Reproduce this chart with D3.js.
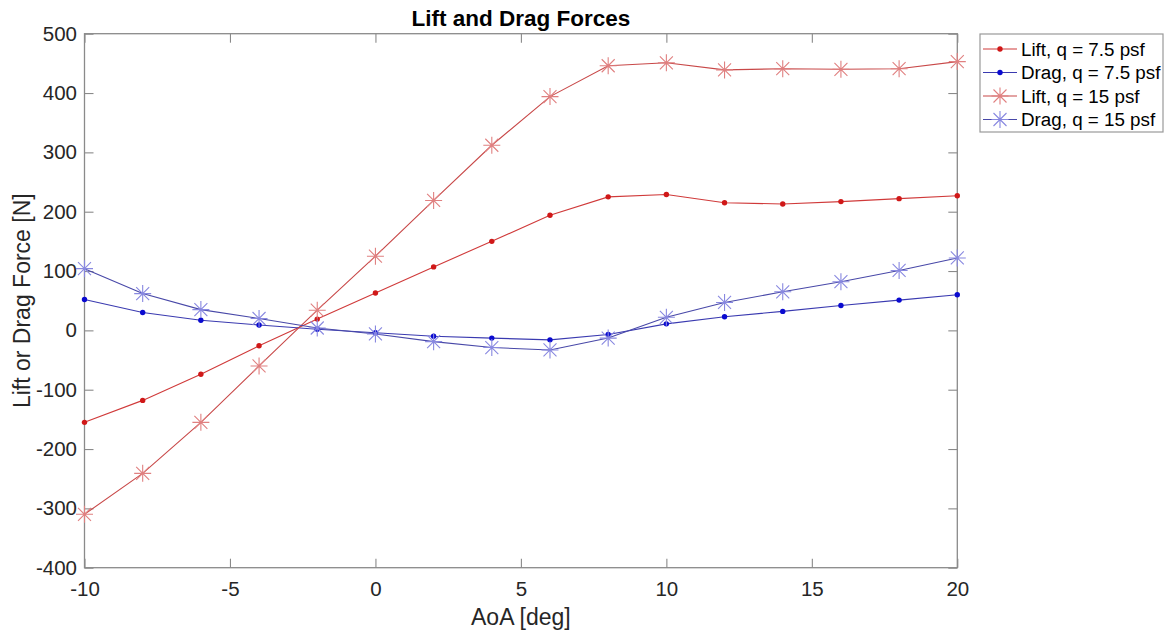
<!DOCTYPE html>
<html>
<head>
<meta charset="utf-8">
<script src="https://cdn.jsdelivr.net/npm/d3@7"></script>
<style>
  html, body { margin: 0; padding: 0; background: #fff; }
  svg { display: block; font-family: "Liberation Sans", Arial, sans-serif; }
</style>
</head>
<body>
<svg id="chart" width="1172" height="633"></svg>
<script>
// Angle of attack (deg)
const aoa = [-10, -8, -6, -4, -2, 0, 2, 4, 6, 8, 10, 12, 14, 16, 18, 20];
// Forces (N)
const lift75 = [-155, -118, -74, -26, 19, 63, 107, 150, 194, 225, 229, 215, 213, 217, 222, 227];
const drag75 = [52, 30, 17, 9, 2, -4, -10, -13, -16, -7, 11, 23, 32, 42, 51, 60];
const lift15 = [-310, -241, -155, -60, 34, 125, 219, 312, 394, 446, 451, 439, 441, 440, 441, 453];
const drag15 = [104, 62, 35, 20, 4, -6, -19, -29, -33, -13, 22, 47, 65, 82, 101, 122];

const xTicks = [-10, -5, 0, 5, 10, 15, 20];
const yTicks = [-400, -300, -200, -100, 0, 100, 200, 300, 400, 500];

const seriesNames = ["Lift, q = 7.5 psf", "Drag, q = 7.5 psf", "Lift, q = 15 psf", "Drag, q = 15 psf"];

const series = [
  { name: seriesNames[0], values: lift75, line: "#d03a3a", mark: "#d01818", marker: "dot" },
  { name: seriesNames[1], values: drag75, line: "#3a3ab0", mark: "#0a0ad0", marker: "dot" },
  { name: seriesNames[2], values: lift15, line: "#c84848", mark: "#e08080", marker: "star" },
  { name: seriesNames[3], values: drag15, line: "#4848a8", mark: "#8888e0", marker: "star" }
];

const svg = d3.select("#chart");
const plotL = 84.5, plotR = 957.3, plotT = 33.7, plotB = 567.7;

const x = d3.scaleLinear().domain([-10, 20]).range([plotL, plotR]);
const y = d3.scaleLinear().domain([-400, 500]).range([plotB, plotT]);

const axisColor = "#8a8a8a";
const textColor = "#262626";
const tickLen = 9;
const plainNum = d => String(d);   // ASCII hyphen for negatives

// plot box
svg.append("rect")
  .attr("x", plotL).attr("y", plotT)
  .attr("width", plotR - plotL).attr("height", plotB - plotT)
  .attr("fill", "#fff").attr("stroke", axisColor).attr("stroke-width", 1.3);

// axes with inward ticks on all four sides
const styleAxis = g => {
  g.select(".domain").remove();
  g.selectAll(".tick line").attr("stroke", axisColor).attr("stroke-width", 1.1);
  g.selectAll(".tick text").attr("fill", textColor)
    .style("font-size", "20.5px").style("font-family", "'Liberation Sans', Arial, sans-serif");
};

svg.append("g").attr("transform", `translate(0,${plotB})`)
  .call(d3.axisBottom(x).tickValues(xTicks).tickFormat(plainNum)
    .tickSizeInner(-tickLen).tickSizeOuter(0).tickPadding(13.5))
  .call(styleAxis);
svg.append("g").attr("transform", `translate(0,${plotT})`)
  .call(d3.axisTop(x).tickValues(xTicks).tickFormat("").tickSizeInner(-tickLen).tickSizeOuter(0))
  .call(styleAxis);
svg.append("g").attr("transform", `translate(${plotL},0)`)
  .call(d3.axisLeft(y).tickValues(yTicks).tickFormat(plainNum)
    .tickSizeInner(-tickLen).tickSizeOuter(0).tickPadding(7.5))
  .call(styleAxis);
svg.append("g").attr("transform", `translate(${plotR},0)`)
  .call(d3.axisRight(y).tickValues(yTicks).tickFormat("").tickSizeInner(-tickLen).tickSizeOuter(0))
  .call(styleAxis);

// series
const line = d3.line().x((d, i) => x(aoa[i])).y(d => y(d));
const starPath = (cx, cy) => {
  const a = 8.5, b = 6.5;
  return `M${cx - a},${cy}L${cx + a},${cy}M${cx},${cy - a}L${cx},${cy + a}` +
         `M${cx - b},${cy - b}L${cx + b},${cy + b}M${cx - b},${cy + b}L${cx + b},${cy - b}`;
};

const plot = svg.append("g");
series.forEach(s => {
  plot.append("path").datum(s.values)
    .attr("d", line).attr("fill", "none")
    .attr("stroke", s.line).attr("stroke-width", 1.1);
});
series.forEach(s => {
  const g = plot.append("g");
  if (s.marker === "dot") {
    g.selectAll("circle").data(s.values).join("circle")
      .attr("cx", (d, i) => x(aoa[i])).attr("cy", d => y(d))
      .attr("r", 2.7).attr("fill", s.mark);
  } else {
    g.selectAll("path").data(s.values).join("path")
      .attr("d", (d, i) => starPath(x(aoa[i]), y(d)))
      .attr("fill", "none").attr("stroke", s.mark).attr("stroke-width", 1.1);
  }
});

// title and axis labels
svg.append("text").attr("x", (plotL + plotR) / 2).attr("y", 26)
  .attr("text-anchor", "middle").attr("fill", "#000")
  .style("font-size", "22.5px").style("font-weight", "bold")
  .text("Lift and Drag Forces");

svg.append("text").attr("x", (plotL + plotR) / 2).attr("y", 625)
  .attr("text-anchor", "middle").attr("fill", textColor)
  .style("font-size", "23px")
  .text("AoA [deg]");

svg.append("text")
  .attr("transform", `translate(30,${(plotT + plotB) / 2}) rotate(-90)`)
  .attr("text-anchor", "middle").attr("fill", textColor)
  .style("font-size", "23px")
  .text("Lift or Drag Force [N]");

// legend
const lg = svg.append("g");
lg.append("rect").attr("x", 980).attr("y", 34).attr("width", 183).attr("height", 98)
  .attr("fill", "#fff").attr("stroke", "#999").attr("stroke-width", 1.2);
const rowY = d3.scalePoint().domain(seriesNames).range([49, 119.5]);
series.forEach(s => {
  const cy = rowY(s.name);
  lg.append("line").attr("x1", 983).attr("x2", 1017).attr("y1", cy).attr("y2", cy)
    .attr("stroke", s.line).attr("stroke-width", 1.1);
  if (s.marker === "dot") {
    lg.append("circle").attr("cx", 1000).attr("cy", cy).attr("r", 2.7).attr("fill", s.mark);
  } else {
    lg.append("path").attr("d", starPath(1000, cy)).attr("fill", "none")
      .attr("stroke", s.mark).attr("stroke-width", 1.1);
  }
  lg.append("text").attr("x", 1021).attr("y", cy).attr("dy", "0.35em")
    .attr("fill", "#000").style("font-size", "18.8px").text(s.name);
});
</script>
</body>
</html>
